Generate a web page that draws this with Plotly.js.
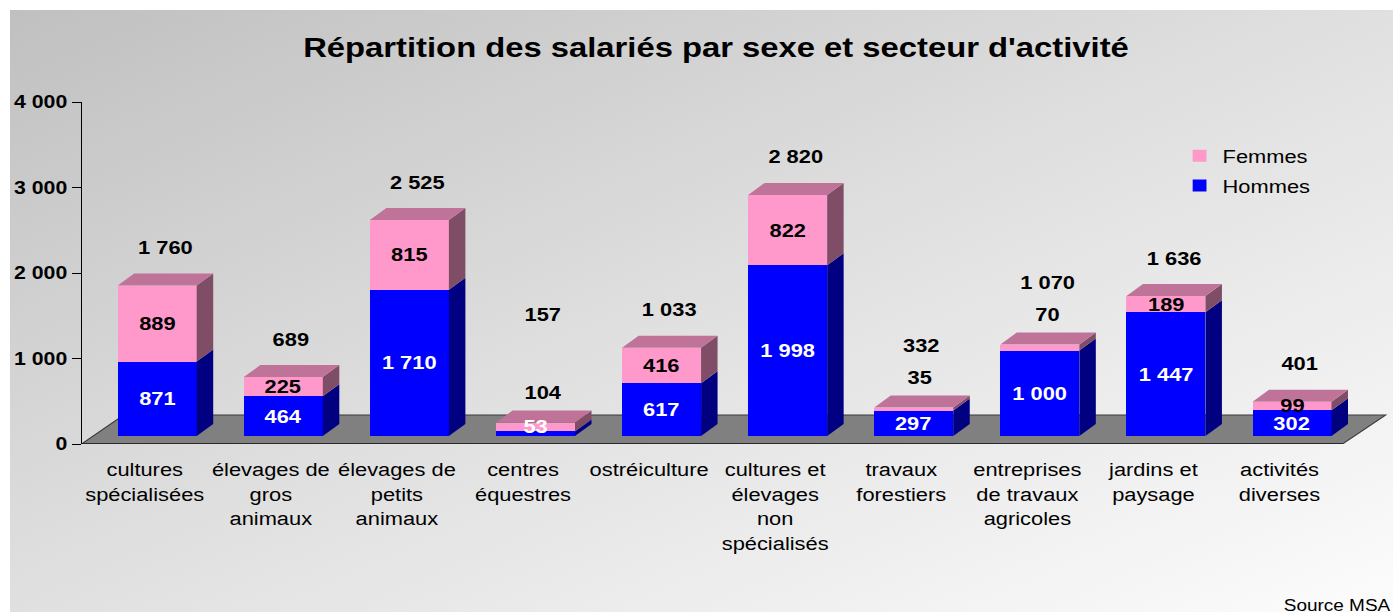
<!DOCTYPE html>
<html>
<head>
<meta charset="utf-8">
<script src="https://cdn.plot.ly/plotly-3.0.1.min.js"></script>
<style>
  html, body { margin: 0; padding: 0; background: #ffffff; overflow: hidden; }
  #bg { position: absolute; left: 10px; top: 10px; width: 1383px; height: 602px;
        background: linear-gradient(to bottom right, #c0c0c0 0%, #e0e0e0 50%, #fcfcfc 100%); }
  #chart { position: absolute; left: 0; top: 0; width: 1211px; height: 612px;
           transform: scaleX(1.15029); transform-origin: 0 0; }
</style>
</head>
<body>
<div id="bg"></div>
<div id="chart"></div>
<script>
// ---- data ----
const categories = [
  'cultures<br>spécialisées',
  'élevages de<br>gros<br>animaux',
  'élevages de<br>petits<br>animaux',
  'centres<br>équestres',
  'ostréiculture',
  'cultures et<br>élevages<br>non<br>spécialisés',
  'travaux<br>forestiers',
  'entreprises<br>de travaux<br>agricoles',
  'jardins et<br>paysage',
  'activités<br>diverses'
];
const hommes = [871, 464, 1710, 53, 617, 1998, 297, 1000, 1447, 302];
const femmes = [889, 225, 815, 104, 416, 822, 35, 70, 189, 99];
const totals = [1760, 689, 2525, 157, 1033, 2820, 332, 1070, 1636, 401];
const yTicks = [0, 1000, 2000, 3000, 4000];

// ---- styling / geometry ----
const FONT = 'Arial, "Liberation Sans", sans-serif';
const BLUE = '#0000FF', BLUE_SIDE = '#000080';
const PINK = '#FF99CC', PINK_SIDE = '#804D66', PINK_TOP = '#C07399';
const S = 1393 / 1211;                // horizontal stretch of the page rendering
const W = 1211, H = 612;
const px = v => v / S;                // page px -> inner px (horizontal)
const plotLeft = 82, plotRight = 1390;
const L = px(plotLeft), R = px(1393 - plotRight), T = 102, B = 168;
const slotRef = 126.1;                // page px per category
const plotWRef = plotRight - plotLeft, plotH = H - T - B;
const xMax = -0.5 + plotWRef / slotRef;
const yPxPerUnit = plotH / 4000;
const barShiftX = 12.5 / slotRef;     // bars sit deeper than the floor front edge
const barShiftY = 8 / yPxPerUnit;
const barW = 79 / slotRef;
const depthX = 16.5 / slotRef, depthY = 12 / yPxPerUnit;
const floorDX = 42 / slotRef, floorDY = 29 / yPxPerUnit;
const paperX = xRef => (xRef - plotLeft) / plotWRef;
const paperY = yRef => (444 - yRef) / plotH;

const fmt = v => String(v).replace(/\B(?=(\d{3})+(?!\d))/g, ' ');
const idx = categories.map((_, i) => i);

const traces = [
  { type: 'bar', name: 'Hommes', x: idx, y: hommes, width: barW,
    marker: { color: BLUE, line: { width: 0 } }, xaxis: 'x2', yaxis: 'y2',
    hoverinfo: 'y+name', legendgroup: 'h', legendrank: 2 },
  { type: 'bar', name: 'Femmes', x: idx, y: femmes, width: barW,
    marker: { color: PINK, line: { width: 0 } }, xaxis: 'x2', yaxis: 'y2',
    hoverinfo: 'y+name', legendgroup: 'f', legendrank: 1 }
];

const shapes = [];
// floor
shapes.push({
  type: 'path', xref: 'x', yref: 'y', layer: 'below',
  path: `M -0.5,0 L ${-0.5 + floorDX},${floorDY} L ${xMax - 0.03},${floorDY} L 9.5,0 Z`,
  fillcolor: '#808080', line: { color: '#3a3a3a', width: 1 }
});
shapes.push({ type: 'line', xref: 'x', yref: 'y', x0: -0.5, x1: 9.5, y0: 0, y1: 0,
  line: { color: '#1a1a1a', width: 1.5 } });

// 3D faces computed from the data
idx.forEach(i => {
  const xr = i + barW / 2, xl = i - barW / 2;
  const h = hommes[i], t = hommes[i] + femmes[i];
  const face = (y0, y1, c) => shapes.push({
    type: 'path', xref: 'x2', yref: 'y2', layer: 'above',
    path: `M ${xr},${y0} L ${xr + depthX},${y0 + depthY} L ${xr + depthX},${y1 + depthY} L ${xr},${y1} Z`,
    fillcolor: c, line: { width: 0 }
  });
  face(0, h, BLUE_SIDE);
  face(h, t, PINK_SIDE);
  shapes.push({
    type: 'path', xref: 'x2', yref: 'y2', layer: 'above',
    path: `M ${xl},${t} L ${xl + depthX},${t + depthY} L ${xr + depthX},${t + depthY} L ${xr},${t} Z`,
    fillcolor: PINK_TOP, line: { width: 0 }
  });
});

// data labels
const annotations = [];
const lblFont = (c) => ({ family: FONT, size: 19, color: c, weight: 'bold' });
const minLabelY = 10 / yPxPerUnit;
idx.forEach(i => {
  const h = hommes[i], f = femmes[i], t = totals[i];
  annotations.push({ xref: 'x2', yref: 'y2', x: i, y: Math.max(h / 2, minLabelY),
    text: '<b>' + fmt(h) + '</b>', showarrow: false, font: lblFont('#FFFFFF') });
  const outside = (f / t < 0.11) || t < 200;
  if (outside) {
    annotations.push({ xref: 'x2', yref: 'y2', x: i, y: h + f, yshift: 30, xshift: px(7),
      text: '<b>' + fmt(f) + '</b>', showarrow: false, font: lblFont('#000000') });
  } else {
    annotations.push({ xref: 'x2', yref: 'y2', x: i, y: h + f / 2,
      text: '<b>' + fmt(f) + '</b>', showarrow: false, font: lblFont('#000000') });
  }
  annotations.push({ xref: 'x2', yref: 'y2', x: i, y: h + f,
    yshift: outside ? (t < 200 ? 108 : 62) : 38, xshift: px(8),
    text: '<b>' + fmt(t) + '</b>', showarrow: false, font: lblFont('#000000') });
});
annotations.push({ xref: 'paper', yref: 'paper', x: paperX(1393), xanchor: 'right',
  y: paperY(605), yanchor: 'middle', text: 'Source MSA', showarrow: false,
  font: { family: FONT, size: 16.5, color: '#000000' } });

const layout = {
  width: W, height: H,
  margin: { l: L, r: R, t: T, b: B, pad: 0 },
  paper_bgcolor: 'rgba(0,0,0,0)', plot_bgcolor: 'rgba(0,0,0,0)',
  separators: ', ',
  barmode: 'stack',
  showlegend: true,
  title: { text: '<b>Répartition des salariés par sexe et secteur d\'activité</b>',
    xref: 'container', x: 716 / 1393, xanchor: 'center',
    yref: 'container', y: 1 - 47 / H, yanchor: 'middle',
    font: { family: FONT, size: 28.5, color: '#000000' } },
  xaxis: { range: [-0.5, xMax], tickvals: idx, ticktext: categories,
    showgrid: false, zeroline: false, showline: false, ticks: '',
    tickfont: { family: FONT, size: 19, color: '#000000' }, ticklabelstandoff: 12,
    fixedrange: true },
  yaxis: { range: [0, 4000], tickvals: yTicks, tickformat: ',d',
    showgrid: false, zeroline: false, showline: true, linecolor: '#000000', linewidth: 1,
    ticks: 'outside', ticklen: px(9), tickcolor: '#000000',
    tickfont: { family: FONT, size: 18.5, color: '#000000', weight: 'bold' },
    fixedrange: true },
  xaxis2: { overlaying: 'x', anchor: 'y2', range: [-0.5 - barShiftX, xMax - barShiftX],
    showgrid: false, zeroline: false, showline: false, showticklabels: false, ticks: '',
    fixedrange: true },
  yaxis2: { overlaying: 'y', anchor: 'x2', range: [-barShiftY, 4000 - barShiftY],
    showgrid: false, zeroline: false, showline: false, showticklabels: false, ticks: '',
    fixedrange: true },
  legend: { x: paperX(1177), xanchor: 'left', y: paperY(137), yanchor: 'top',
    traceorder: 'grouped', tracegroupgap: 2, bgcolor: 'rgba(0,0,0,0)',
    font: { family: FONT, size: 19, color: '#000000' } },
  shapes: shapes,
  annotations: annotations
};

Plotly.newPlot('chart', traces, layout, { displayModeBar: false, staticPlot: true });
</script>
</body>
</html>
